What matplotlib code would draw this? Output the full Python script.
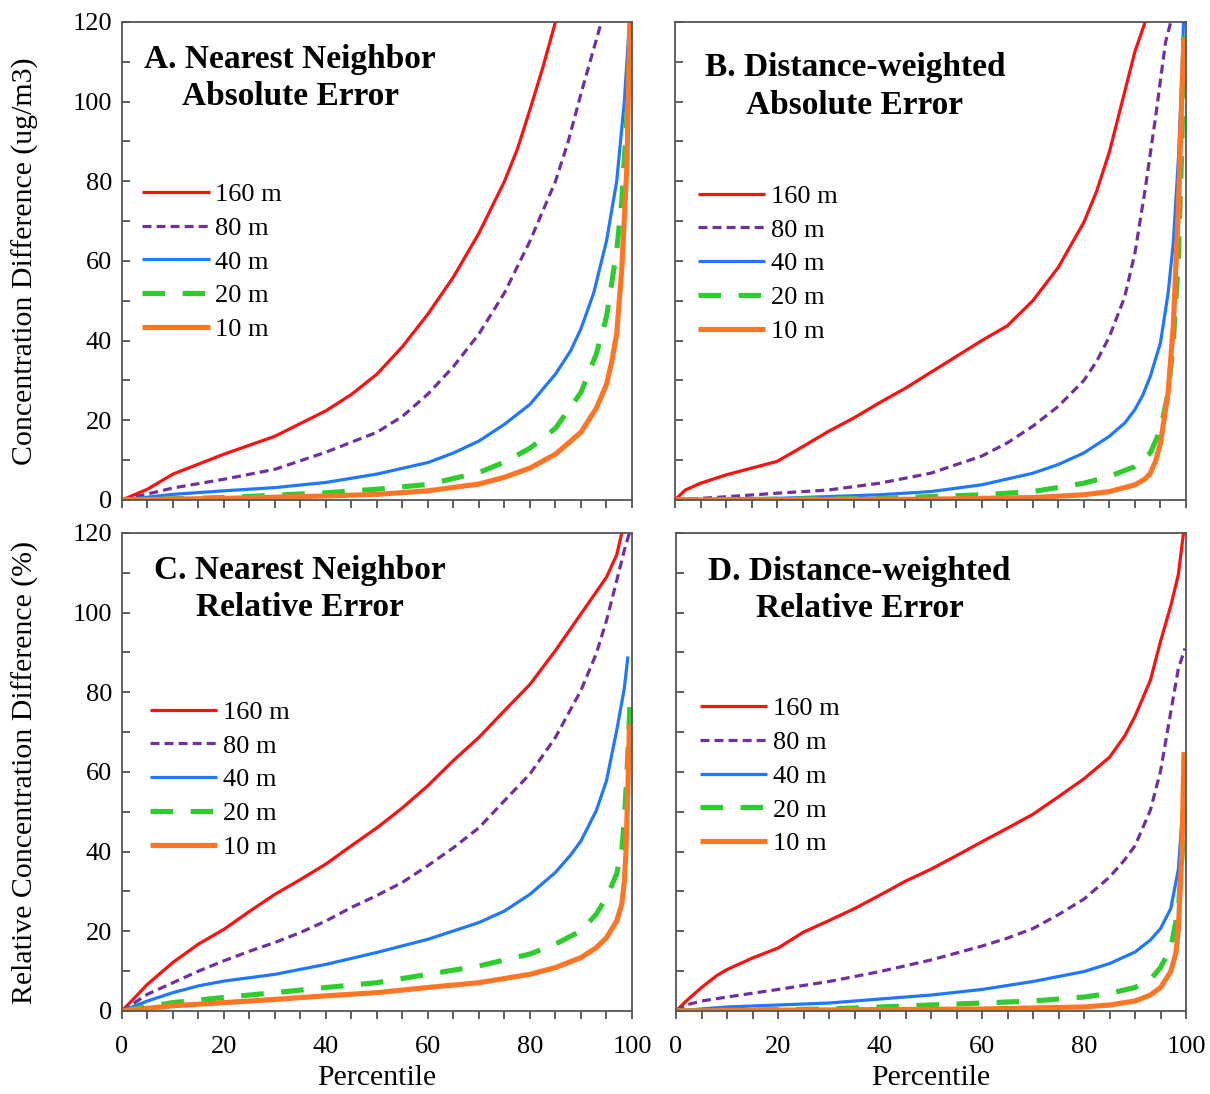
import matplotlib
matplotlib.use("Agg")
import matplotlib.pyplot as plt
from matplotlib.ticker import MultipleLocator

plt.rcParams["font.family"] = ["Liberation Serif", "DejaVu Serif"]

LABELS = ["160 m", "80 m", "40 m", "20 m", "10 m"]
COLORS = ["#FF1010", "#7030A0", "#1F78FF", "#2ECC2E", "#FF7526"]
WIDTHS = [2.3, 2.3, 2.3, 3.7, 3.7]
DASHES = [None, (2.8, 1.6), None, (4.4, 3.4), None]

# A. nearest neighbor, absolute error (percentile, ug/m3)
a_160 = [(0, 0), (5, 2.7), (10, 6.5), (20, 11.5), (30, 16), (40, 22.4), (45, 26.5),
         (50, 31.6), (55, 38.5), (60, 46.7), (65, 56), (70, 67), (75, 80),
         (77.5, 88), (80, 98), (82.5, 108.5), (85, 120)]
a_80 = [(0, 0), (10, 3), (20, 5.2), (30, 7.7), (40, 12), (50, 17), (55, 21),
        (60, 26.6), (65, 33.5), (70, 41.7), (75, 52), (80, 65), (85, 80),
        (87.5, 90), (90, 102), (92, 111), (94, 120)]
a_40 = [(0, 0), (10, 1.4), (20, 2.3), (30, 3.1), (40, 4.4), (50, 6.5), (60, 9.4),
        (65, 11.8), (70, 14.8), (75, 19), (80, 24), (85, 31.6), (88, 37.5),
        (90, 43), (92.5, 52), (95, 65), (97, 80), (98.5, 100), (99.5, 120)]
a_20 = [(0, 0), (20, 0.6), (40, 1.8), (50, 2.7), (60, 3.9), (70, 6.9), (75, 9.5),
        (80, 13), (85, 18), (90, 27), (93, 36.6), (95, 46), (97, 62.6), (98, 75),
        (99, 96), (99.7, 120)]
a_10 = [(0, 0), (20, 0.4), (40, 1), (50, 1.4), (60, 2.3), (70, 4), (75, 5.7),
        (80, 8), (85, 11.5), (90, 17), (93, 23), (95, 29), (96, 34.5), (97, 41.7),
        (98, 58), (99, 83.6), (99.6, 120)]

# B. distance-weighted, absolute error
b_160 = [(0, 0), (2, 2.5), (5, 4.2), (10, 6.3), (15, 8), (20, 9.7), (25, 13.4),
         (30, 17.2), (35, 20.6), (40, 24.4), (45, 28), (50, 32), (55, 36), (60, 40),
         (65, 43.7), (70, 50), (75, 58.4), (80, 69.7), (82.5, 77.5), (85, 87.4),
         (88, 102.5), (90, 112.6), (92, 120)]
b_80 = [(0, 0), (10, 0.8), (20, 1.7), (30, 2.5), (40, 4.2), (50, 6.7), (60, 11),
        (65, 14.3), (70, 18.5), (75, 23.5), (80, 30), (82.5, 34.8), (85, 41),
        (88, 51), (90, 62), (92, 78), (94, 95.8), (96, 115), (97, 120)]
b_40 = [(0, 0), (20, 0.4), (40, 1.3), (50, 2.1), (60, 3.8), (70, 6.7), (75, 8.9),
        (80, 11.8), (85, 16), (88, 19.3), (90, 22.7), (91.5, 26.2), (93, 31),
        (95, 39.5), (96.5, 52), (97.5, 64.5), (98.5, 85.5), (99.2, 106.7),
        (99.5, 120)]
b_20 = [(0, 0), (40, 0.4), (60, 1.3), (70, 2.1), (80, 4.2), (85, 5.9), (90, 8.4),
        (93, 11.8), (95, 17.6), (96.5, 27), (97.5, 39.5), (98.5, 60.5), (99.2, 90),
        (99.7, 120)]
b_10 = [(0, 0), (50, 0.2), (70, 0.6), (80, 1.3), (85, 2.1), (90, 3.8), (92, 5.3),
        (93, 6.7), (94, 9.6), (95, 14.3), (96.5, 27), (97.5, 43.7), (98.5, 73),
        (99.2, 102.5), (99.6, 116)]

# C. nearest neighbor, relative error (%)
c_160 = [(0, 0), (5, 6.7), (10, 12.2), (15, 16.8), (20, 20.5), (25, 25), (30, 29.3),
         (35, 33), (40, 36.9), (45, 41.5), (50, 46), (55, 51), (60, 56.6), (65, 62.9),
         (70, 68.7), (75, 75.4), (80, 82), (85, 90.5), (90, 99.7), (95, 108.9),
         (97, 114.5), (98, 120)]
c_80 = [(0, 0), (5, 4.2), (10, 7.1), (15, 10), (20, 12.6), (25, 15), (30, 17.2),
        (35, 19.7), (40, 22.6), (45, 26), (50, 29), (55, 32.3), (60, 36.5), (65, 41),
        (70, 46), (75, 52.8), (80, 59.5), (85, 68.7), (90, 80.5), (93, 89.7), (95, 98),
        (97, 108), (98.5, 115.7), (99.5, 120)]
c_40 = [(0, 0), (5, 2.5), (10, 4.6), (15, 6.3), (20, 7.5), (30, 9.2), (40, 11.7),
        (50, 14.7), (60, 18), (70, 22.2), (75, 25.1), (80, 29.3), (85, 34.8),
        (88, 39.2), (90, 42.7), (93, 50.3), (95, 57.8), (97, 70.4), (98.5, 81),
        (99.2, 89)]
c_20 = [(0, 0), (10, 2.1), (20, 3.4), (30, 4.6), (40, 5.9), (50, 7.1), (60, 9.2),
        (70, 11.3), (80, 14.3), (85, 16.8), (90, 20.1), (93, 24.3), (95, 28.5),
        (97, 34.4), (98, 40.5), (98.5, 47.8), (99.2, 64.5), (99.6, 77)]
c_10 = [(0, 0), (10, 1.3), (20, 2.1), (30, 2.9), (40, 3.8), (50, 4.6), (60, 5.9),
        (70, 7.1), (80, 9.2), (85, 10.9), (90, 13.4), (93, 15.9), (95, 18.4),
        (97, 22.6), (98, 26.8), (98.5, 32.5), (98.8, 39.4), (99.2, 56), (99.5, 72)]

# D. distance-weighted, relative error
d_160 = [(0, 0), (2, 2.5), (5, 5.9), (8, 8.9), (10, 10.4), (15, 13.3), (20, 15.8),
         (25, 19.8), (30, 22.7), (35, 25.7), (40, 29.1), (45, 32.6), (50, 35.6),
         (55, 39), (60, 42.5), (65, 45.9), (70, 49.4), (75, 53.8), (80, 58.3),
         (85, 63.7), (88, 69.1), (90, 74), (93, 83), (95, 92.8), (97, 101.7),
         (98.5, 109.6), (99.5, 120)]
d_80 = [(0, 0), (2, 1.5), (5, 2.5), (10, 3.5), (20, 5.4), (30, 7.4), (40, 9.9),
        (50, 12.8), (60, 16.3), (65, 18.3), (70, 20.7), (75, 24.2), (80, 28.1),
        (85, 33.6), (88, 38), (90, 41.5), (93, 50.4), (95, 60.2), (97, 75),
        (98.5, 86), (99.8, 91)]
d_40 = [(0, 0), (10, 1), (20, 1.5), (30, 2), (40, 3), (50, 4), (60, 5.4), (70, 7.4),
        (80, 9.9), (85, 11.9), (90, 14.8), (93, 17.8), (95, 20.7), (97, 25.7),
        (98.5, 35.6), (99.3, 50), (99.7, 60)]
d_20 = [(0, 0), (30, 0.5), (40, 1), (50, 1.5), (60, 2), (70, 2.5), (80, 3.5),
        (85, 4.4), (90, 5.9), (93, 7.9), (95, 10.9), (97, 15.8), (98.5, 25.7),
        (99.3, 40.5), (99.7, 52)]
d_10 = [(0, 0), (20, 0.2), (60, 0.5), (80, 1), (85, 1.5), (90, 2.5), (93, 4),
        (95, 5.9), (97, 9.9), (98, 14.5), (98.5, 20.7), (99.2, 40.5), (99.6, 65)]

panels = [
    ("A. Nearest Neighbor\nAbsolute Error", [a_160, a_80, a_40, a_20, a_10],
     [0.1008, 0.5430, 0.4215, 0.4369], (0.33, 0.883), (0.04, 0.664)),
    ("B. Distance-weighted\nAbsolute Error", [b_160, b_80, b_40, b_20, b_10],
     [0.5579, 0.5430, 0.4223, 0.4369], (0.352, 0.865), (0.045, 0.66)),
    ("C. Nearest Neighbor\nRelative Error", [c_160, c_80, c_40, c_20, c_10],
     [0.1008, 0.0759, 0.4215, 0.4369], (0.349, 0.883), (0.055, 0.65)),
    ("D. Distance-weighted\nRelative Error", [d_160, d_80, d_40, d_20, d_10],
     [0.5587, 0.0759, 0.4215, 0.4369], (0.36, 0.881), (0.047, 0.657)),
]

fig = plt.figure(figsize=(12.1, 10.94), dpi=100)

for i, (title, series, rect, tpos, lpos) in enumerate(panels):
    ax = fig.add_axes(rect)
    for pts, lab, col, lw, dash in zip(series, LABELS, COLORS, WIDTHS, DASHES):
        xs = [p[0] for p in pts]
        ys = [p[1] for p in pts]
        line, = ax.plot(xs, ys, color=col, lw=lw, label=lab, solid_capstyle="butt",
                        solid_joinstyle="round")
        if dash:
            line.set_dashes(dash)
    ax.set_xlim(0, 100)
    ax.set_ylim(0, 120)
    ax.xaxis.set_major_locator(MultipleLocator(20))
    ax.xaxis.set_minor_locator(MultipleLocator(5))
    ax.yaxis.set_major_locator(MultipleLocator(20))
    ax.yaxis.set_minor_locator(MultipleLocator(10))
    ax.tick_params(axis="x", which="both", direction="out", length=6, width=1.2,
                   color="#444444", labelsize=19, pad=12)
    ax.tick_params(axis="y", which="both", direction="in", length=6, width=1.2,
                   color="#444444", labelsize=19, pad=7)
    for sp in ax.spines.values():
        sp.set_color("#555555")
        sp.set_linewidth(1.3)
    if i < 2:
        ax.tick_params(axis="x", labelbottom=False)
    else:
        ax.set_xlabel("Percentile", fontsize=21.5, labelpad=5)
    if i % 2 == 1:
        ax.tick_params(axis="y", labelleft=False)
    ax.text(tpos[0], tpos[1], title, transform=ax.transAxes, ha="center",
            va="center", fontsize=24, fontweight="bold", linespacing=1.27)
    ax.legend(loc="upper left", bbox_to_anchor=lpos, frameon=False, fontsize=19,
              handlelength=2.55, handletextpad=0.22, labelspacing=0.39,
              borderpad=0, borderaxespad=0)
    if i == 0:
        ax.set_ylabel("Concentration Difference (ug/m3)", fontsize=21.5,
                      labelpad=24)
    if i == 2:
        ax.set_ylabel("Relative Concentration Difference (%)", fontsize=21.5,
                      labelpad=24)

fig.savefig("out.png", dpi=100)
